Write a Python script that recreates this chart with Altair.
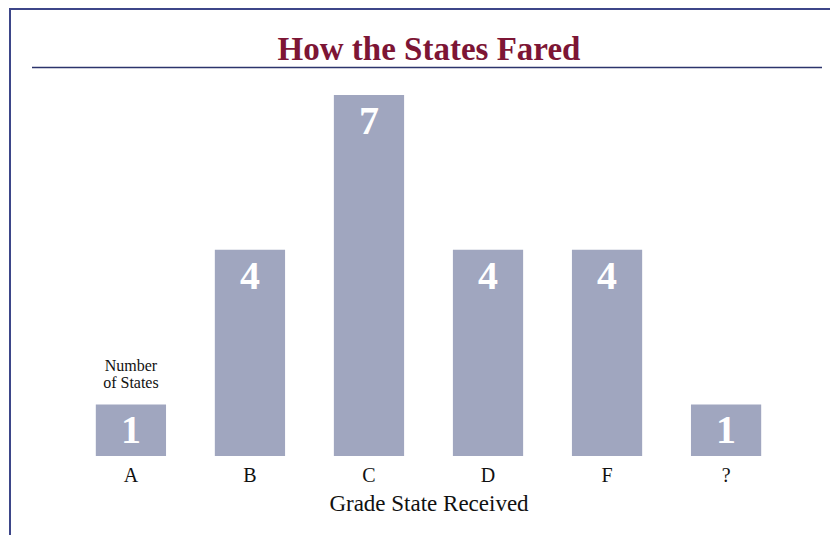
import altair as alt
import pandas as pd

grades = ["A", "B", "C", "D", "F", "?"]
counts = [1, 4, 7, 4, 4, 1]
title_text = "How the States Fared"
annotation_lines = ["Number", "of States"]

df = pd.DataFrame({"grade": grades, "count": counts})

SERIF = "Liberation Serif"
BAR = "#a0a6bf"

x_enc = alt.X(
    "grade:N",
    sort=grades,
    scale=alt.Scale(paddingInner=0.41, paddingOuter=0.2),
    axis=alt.Axis(
        title="Grade State Received",
        labelAngle=0,
        domain=False,
        ticks=False,
        labelFont=SERIF,
        labelFontSize=20,
        labelColor="#111111",
        labelPadding=9,
        titleFont=SERIF,
        titleFontSize=23,
        titleFontWeight="normal",
        titleColor="#111111",
        titlePadding=7,
    ),
)
y_enc = alt.Y("count:Q", scale=alt.Scale(domain=[0, 7], nice=False), axis=None)

bars = alt.Chart(df).mark_bar(color=BAR).encode(x=x_enc, y=y_enc)

labels = alt.Chart(df).mark_text(
    color="white", font=SERIF, fontSize=40, fontWeight="bold", baseline="alphabetic", dy=39
).encode(x=alt.X("grade:N", sort=grades), y="count:Q", text=alt.Text("count:Q"))

ann_layers = []
for line, dy in zip(annotation_lines, [-33, -16]):
    ann_df = pd.DataFrame({"grade": [grades[0]], "count": [counts[0]], "t": [line]})
    ann_layers.append(
        alt.Chart(ann_df).mark_text(
            font=SERIF, fontSize=16, color="#111111", baseline="alphabetic", dy=dy
        ).encode(x=alt.X("grade:N", sort=grades), y="count:Q", text="t:N")
    )

title_df = pd.DataFrame({"t": [title_text]})
title = alt.Chart(title_df).mark_text(
    font=SERIF, fontSize=33, fontWeight="bold", color="#7d1535", baseline="alphabetic"
).encode(x=alt.value(357), y=alt.value(-35), text="t:N")

frame_col = "#3d4689"
top_border = alt.Chart(title_df).mark_rule(color=frame_col, strokeWidth=2).encode(
    x=alt.value(-62), x2=alt.value(770), y=alt.value(-86)
)
left_border = alt.Chart(title_df).mark_rule(color=frame_col, strokeWidth=2).encode(
    x=alt.value(-62), y=alt.value(-87), y2=alt.value(460)
)
title_rule = alt.Chart(title_df).mark_rule(color="#2c346c", strokeWidth=1.5).encode(
    x=alt.value(-40), x2=alt.value(750), y=alt.value(-27.5)
)

chart = alt.layer(bars, labels, *ann_layers, title, top_border, left_border, title_rule).properties(
    width=713,
    height=361,
    background="white",
    autosize=alt.AutoSizeParams(type="none"),
    padding={"left": 64, "top": 87, "right": 45, "bottom": 80},
).configure_view(stroke="transparent", strokeWidth=0)

chart.save("out.html", embed_options={"renderer": "svg", "actions": False})
